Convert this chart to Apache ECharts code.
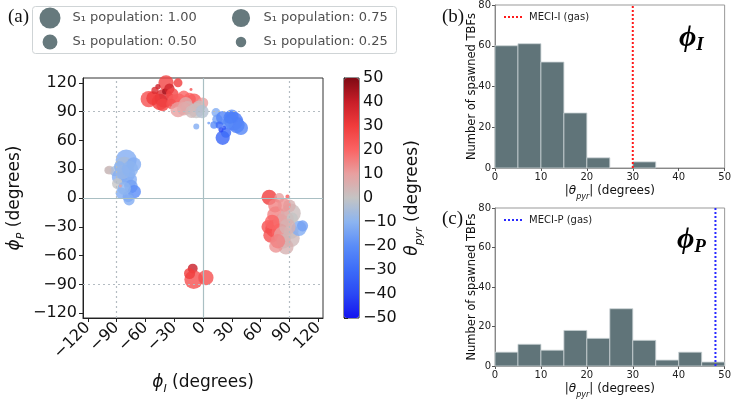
<!DOCTYPE html>
<html><head><meta charset="utf-8">
<script src="https://cdn.jsdelivr.net/npm/echarts@6/dist/echarts.min.js"></script>
<style>html,body{margin:0;padding:0;background:#fff}#c{width:734px;height:400px}</style>
</head><body><div id="c"></div>
<script>
// ---------- data ----------
const phiTicks = [-120, -90, -60, -30, 0, 30, 60, 90, 120];
const gridDotted = [-90, 90];
const gridSolid = [0];
// scatter points: phi_I, phi_P, theta_pyr, S1 population
const phiI = [
  -56.5, -45, -40.6, -52, -42, -38.5, -47, -26, -39.5, -35, -50, -32, -30, -12.5, -25, -20, -14, -33, -9.4, -18, -0.3, -26, -16, -20, -7, -4, -12, -1, -7, 6,
  13.5, 15, 20.5, 30, 32, 35, 39.5, 20.5, 24, 18.7, 11.5, 25.7, 17, 28, 22,
  -80, -82, -80, -72, -97.5, -92, -87, -89, -76.7, -75, -71.5, -78, -85, -82, -86, -87, -77, -99, -84, -76,
  69, 79.4, 88, 75, 76, 91.6, 90, 74, 68, 81, 86, 70.8, 80, 83, 91.6, 92, 86.4, 76, 84, 100, 103.7, 84.6, 93, 78, 72, 88,
  -10.7, -9.7, 3, -14
];
const phiP = [
  103, 100, 104, 104, 97, 120, 116, 120, 111, 114, 112, 108, 101, 113, 102, 106, 103, 98, 101, 98, 99, 92, 94, 93, 91, 95, 90, 90, 74.5, 78,
  89, 82, 83.6, 85, 80, 76, 73, 62.7, 68, 71, 76, 78, 76, 84, 73,
  39.7, 32.7, 25, 35, 29, 28, 22, 15, 19, 12, 6.6, 1.4, 5, 10, 12.5, 32.7, -2, 29, 27, 30,
  0.7, 0, 1.4, -8, -17.8, -16, -8, -31.7, -30, -24.7, -22, -38.7, -35, -38.7, -42, -35, -51, -50, -45, -31.7, -29, -7.3, -21, -45, -25, -30,
  -73.5, -85, -83, -78.7
];
const thetaPyr = [
  25, 30, 35, 30, 28, 28, 40, 30, 45, 38, 35, 28, 22, 25, 22, 20, 20, 25, 22, 8, 10, 10, 5, 8, 0, 2, 3, -3, -12, -15,
  -12, -15, -22, -20, -26, -24, -22, -32, -30, -40, -20, -20, -30, -24, -35,
  -12, -5, -12, -12, 3, -5, -12, 0, -12, -15, -20, -15, -12, -10, 10, -10, -12, 2, -8, -10,
  30, 10, 22, 15, 15, 2, 5, 25, 25, 12, 8, 25, 20, 10, 3, 2, 5, 12, 5, -12, -15, 12, 0, 15, 20, 5,
  40, 25, 25, 30
];
const population = [
  0.61, 0.60, 0.79, 0.42, 0.36, 0.53, 0.06, 0.18, 0.08, 0.24, 0.12, 0.36, 0.42, 0.02, 0.40, 0.30, 0.36, 0.24, 0.53, 0.42, 0.28, 0.53, 0.40, 0.42, 0.53, 0.36, 0.36, 0.40, 0.08, 0.02,
  0.18, 0.24, 0.40, 0.42, 0.79, 0.60, 0.46, 0.46, 0.24, 0.06, 0.13, 0.28, 0.12, 0.36, 0.04,
  1.00, 0.88, 0.72, 0.48, 0.18, 0.24, 0.53, 0.28, 0.53, 0.42, 0.40, 0.28, 0.30, 0.40, 0.02, 0.28, 0.28, 0.12, 0.48, 0.60,
  0.53, 0.22, 0.04, 0.42, 0.70, 0.88, 0.36, 0.70, 0.42, 0.53, 0.60, 0.53, 0.60, 0.70, 0.70, 0.48, 0.53, 0.42, 0.48, 0.53, 0.28, 0.40, 0.28, 0.48, 0.48, 0.60,
  0.22, 0.79, 0.53, 0.28
];
const legendPops = [1.00, 0.75, 0.50, 0.25];
const legendCol = [0, 1, 0, 1];
const legendRow = [1, 1, 0, 0];
const thetaTicks = [-50, 50, 10]; // min, max, step
const cmapColors = ['#1414f0', '#2a48f4', '#3c6cf8', '#5a8cf8', '#8cb4f0', '#c4c4c4', '#e8a0a0', '#fa6464', '#f03c3c', '#c81e28', '#7f0a14'];
const binEdges = [0, 5, 10, 15, 20, 25, 30, 35, 40, 45, 50];
const countsI = [60, 61, 52, 27, 5, 0, 3, 0, 0, 0];
const countsP = [7, 11, 8, 18, 14, 29, 13, 3, 7, 2];
const meciI = 30;
const meciP = 48;
const histYTicks = [0, 80, 20];

// ---------- chart ----------
const FONT = 'DejaVu Sans';
const SERIF = 'Liberation Serif';
const minus = v => (v < 0 ? '\u2212' + (-v) : String(v));
const sizeOf = p => 21 * Math.sqrt(p);

const scatterData = phiI.map((x, i) => [x, phiP[i], thetaPyr[i], population[i]]);
const legendData = legendPops.map((p, i) => [legendCol[i], legendRow[i], p]);
const histI = countsI.map((c, i) => [binEdges[i], binEdges[i + 1], c]);
const histP = countsP.map((c, i) => [binEdges[i], binEdges[i + 1], c]);

function richName(size, subSize) {
  return {
    m: { fontFamily: FONT, fontStyle: 'italic', fontSize: size, lineHeight: size + 8, color: '#111' },
    s: { fontFamily: FONT, fontStyle: 'italic', fontSize: subSize, lineHeight: subSize + 1, verticalAlign: 'bottom', color: '#111' },
    t: { fontFamily: FONT, fontSize: size, lineHeight: size + 8, color: '#111' }
  };
}

function histRender(params, api) {
  const c = api.value(2);
  if (!c) return null;
  const p0 = api.coord([api.value(0), c]);
  const p1 = api.coord([api.value(1), 0]);
  return {
    type: 'rect',
    shape: { x: p0[0], y: p0[1], width: p1[0] - p0[0], height: p1[1] - p0[1] },
    style: { fill: '#607479', stroke: '#c9d2d4', lineWidth: 0.8 }
  };
}

const histAxisCommon = {
  axisLine: { show: true, lineStyle: { color: '#888' } },
  axisTick: { show: true, length: 3, lineStyle: { color: '#555' } },
  axisLabel: { fontFamily: FONT, fontSize: 10, color: '#222', margin: 4 },
  splitLine: { show: false }
};

const bigRich = {
  m: { fontFamily: SERIF, fontStyle: 'italic', fontWeight: 'bold', fontSize: 30, lineHeight: 34, color: '#000' },
  s: { fontFamily: SERIF, fontStyle: 'italic', fontWeight: 'bold', fontSize: 19, lineHeight: 19, verticalAlign: 'bottom', color: '#000' }
};

const chart = echarts.init(document.getElementById('c'), null, { renderer: 'canvas' });
chart.setOption({
  animation: false,
  backgroundColor: '#fff',
  title: [
    { text: '(a)', left: 3, top: 3, textStyle: { fontFamily: SERIF, fontSize: 19, fontWeight: 'normal', color: '#111' } },
    { text: '(b)', left: 437, top: 3, textStyle: { fontFamily: SERIF, fontSize: 19, fontWeight: 'normal', color: '#111' } },
    { text: '(c)', left: 437, top: 205, textStyle: { fontFamily: SERIF, fontSize: 19, fontWeight: 'normal', color: '#111' } },
    { text: '{m|\u03D5}{s|I}', left: 674, top: 16, textStyle: { rich: bigRich } },
    { text: '{m|\u03D5}{s|P}', left: 672, top: 218, textStyle: { rich: bigRich } }
  ],
  graphic: [
    { type: 'rect', z: 0, shape: { x: 32.5, y: 6.5, width: 364, height: 47, r: 3 }, style: { fill: '#fff', stroke: '#cfd4d6', lineWidth: 1 } }
  ],
  legend: [
    { data: ['MECI-I (gas)'], left: 503, top: 12, padding: 0, itemWidth: 20, itemHeight: 10, itemGap: 6,
      itemStyle: { opacity: 0, borderWidth: 0 },
      textStyle: { fontFamily: FONT, fontSize: 10, color: '#222' } },
    { data: ['MECI-P (gas)'], left: 503, top: 215, padding: 0, itemWidth: 20, itemHeight: 10, itemGap: 6,
      itemStyle: { opacity: 0, borderWidth: 0 },
      textStyle: { fontFamily: FONT, fontSize: 10, color: '#222' } }
  ],
  visualMap: {
    type: 'continuous', seriesIndex: 0, dimension: 2, min: thetaTicks[0], max: thetaTicks[1],
    inRange: { color: cmapColors }, calculable: false, orient: 'vertical',
    left: 344, top: 78, itemWidth: 15, itemHeight: 240, padding: 0, text: null, hoverLink: false
  },
  grid: [
    { left: 83, top: 78, width: 240, height: 240, show: true, borderColor: '#333', borderWidth: 1, backgroundColor: 'transparent' },
    { left: 344, top: 78, width: 15, height: 240, show: true, borderColor: '#222', borderWidth: 1, backgroundColor: 'transparent' },
    { left: 495, top: 4, width: 232, height: 164, show: true, borderColor: '#999', borderWidth: 1, backgroundColor: 'transparent' },
    { left: 495, top: 208, width: 232, height: 164, show: true, borderColor: '#999', borderWidth: 1, backgroundColor: 'transparent' },
    { left: 50, top: 18, width: 191, height: 24, show: false }
  ],
  xAxis: [
    { gridIndex: 0, type: 'value', min: -125, max: 125,
      axisLine: { show: true, onZero: false, lineStyle: { color: '#222' } },
      axisTick: { show: true, length: 4, customValues: phiTicks, lineStyle: { color: '#222' } },
      axisLabel: { customValues: phiTicks, rotate: 45, fontFamily: FONT, fontSize: 16, color: '#111', margin: 7, formatter: minus },
      splitLine: { show: false },
      name: '{m|\u03D5}{s|I}{t| (degrees)}', nameLocation: 'middle', nameGap: 52,
      nameTextStyle: { rich: richName(17, 11) } },
    { gridIndex: 1, type: 'value', min: 0, max: 1, show: false },
    Object.assign({ gridIndex: 2, type: 'value', min: binEdges[0], max: binEdges[binEdges.length - 1], interval: 10,
      name: '{t||}{m|\u03B8}{s|pyr}{t|| (degrees)}', nameLocation: 'middle', nameGap: 13,
      nameTextStyle: { rich: richName(12, 8) } }, histAxisCommon),
    Object.assign({ gridIndex: 3, type: 'value', min: binEdges[0], max: binEdges[binEdges.length - 1], interval: 10,
      name: '{t||}{m|\u03B8}{s|pyr}{t|| (degrees)}', nameLocation: 'middle', nameGap: 13,
      nameTextStyle: { rich: richName(12, 8) } }, histAxisCommon),
    { gridIndex: 4, type: 'value', min: 0, max: 1, show: false }
  ],
  yAxis: [
    { gridIndex: 0, type: 'value', min: -125, max: 125,
      axisLine: { show: true, onZero: false, lineStyle: { color: '#222' } },
      axisTick: { show: true, length: 4, customValues: phiTicks, lineStyle: { color: '#222' } },
      axisLabel: { customValues: phiTicks, fontFamily: FONT, fontSize: 16, color: '#111', margin: 6, formatter: minus },
      splitLine: { show: false },
      name: '{m|\u03D5}{s|P}{t| (degrees)}', nameLocation: 'middle', nameGap: 56, nameRotate: 90,
      nameTextStyle: { rich: richName(17, 11) } },
    { gridIndex: 1, type: 'value', position: 'right', min: thetaTicks[0], max: thetaTicks[1], interval: thetaTicks[2],
      axisLine: { show: true, lineStyle: { color: '#222' } },
      axisTick: { show: true, length: 4, lineStyle: { color: '#222' } },
      axisLabel: { fontFamily: FONT, fontSize: 16, color: '#111', margin: 4, formatter: minus },
      splitLine: { show: false },
      name: '{m|\u03B8}{s|pyr}{t| (degrees)}', nameLocation: 'middle', nameGap: 41, nameRotate: 90, nameMoveOverlap: false,
      nameTextStyle: { rich: richName(17, 11) } },
    Object.assign({ gridIndex: 2, type: 'value', min: histYTicks[0], max: histYTicks[1], interval: histYTicks[2],
      name: 'Number of spawned TBFs', nameLocation: 'middle', nameGap: 17, nameRotate: 90, nameMoveOverlap: false,
      nameTextStyle: { fontFamily: FONT, fontSize: 11.5, color: '#111' } }, histAxisCommon),
    Object.assign({ gridIndex: 3, type: 'value', min: histYTicks[0], max: histYTicks[1], interval: histYTicks[2],
      name: 'Number of spawned TBFs', nameLocation: 'middle', nameGap: 17, nameRotate: 90, nameMoveOverlap: false,
      nameTextStyle: { fontFamily: FONT, fontSize: 11.5, color: '#111' } }, histAxisCommon),
    { gridIndex: 4, type: 'value', min: 0, max: 1, show: false }
  ],
  series: [
    { type: 'scatter', name: 'TBF', xAxisIndex: 0, yAxisIndex: 0, data: scatterData, clip: false, z: 3,
      symbolSize: v => sizeOf(v[3]), itemStyle: { opacity: 0.8 } },
    { type: 'line', name: 'grid', xAxisIndex: 0, yAxisIndex: 0, data: [], z: 1, silent: true,
      markLine: { silent: true, symbol: 'none', label: { show: false }, animation: false,
        data: [].concat(
          gridDotted.map(v => ({ xAxis: v, lineStyle: { color: '#b4bcc2', type: [2, 3], width: 1.2 } })),
          gridDotted.map(v => ({ yAxis: v, lineStyle: { color: '#b4bcc2', type: [2, 3], width: 1.2 } })),
          gridSolid.map(v => ({ xAxis: v, lineStyle: { color: '#a9bfc3', type: 'solid', width: 1.2 } })),
          gridSolid.map(v => ({ yAxis: v, lineStyle: { color: '#a9bfc3', type: 'solid', width: 1.2 } }))
        ) } },
    { type: 'custom', name: 'histI', xAxisIndex: 2, yAxisIndex: 2, data: histI, renderItem: histRender,
      encode: { x: [0, 1], y: 2 }, z: 2 },
    { type: 'line', name: 'MECI-I (gas)', xAxisIndex: 2, yAxisIndex: 2, data: [[meciI, histYTicks[0]], [meciI, histYTicks[1]]],
      symbol: 'none', z: 4, lineStyle: { color: '#ff1a1a', type: [2, 2], width: 2 }, itemStyle: { color: '#ff1a1a' } },
    { type: 'custom', name: 'histP', xAxisIndex: 3, yAxisIndex: 3, data: histP, renderItem: histRender,
      encode: { x: [0, 1], y: 2 }, z: 2 },
    { type: 'line', name: 'MECI-P (gas)', xAxisIndex: 3, yAxisIndex: 3, data: [[meciP, histYTicks[0]], [meciP, histYTicks[1]]],
      symbol: 'none', z: 4, lineStyle: { color: '#2a2aff', type: [2, 2], width: 2 }, itemStyle: { color: '#2a2aff' } },
    { type: 'scatter', name: 'legendMarks', xAxisIndex: 4, yAxisIndex: 4, data: legendData, z: 5, silent: true,
      symbolSize: v => sizeOf(v[2]), itemStyle: { color: '#66797d', opacity: 1 } },
    { type: 'scatter', name: 'legendText', xAxisIndex: 4, yAxisIndex: 4, data: legendData, z: 5, silent: true,
      symbolSize: 1, itemStyle: { color: 'rgba(0,0,0,0)' },
      label: { show: true, position: 'right', distance: 22, fontFamily: FONT, fontSize: 13, color: '#222',
        formatter: p => 'S\u2081 population: ' + p.value[2].toFixed(2) } }
  ]
});
</script></body></html>
